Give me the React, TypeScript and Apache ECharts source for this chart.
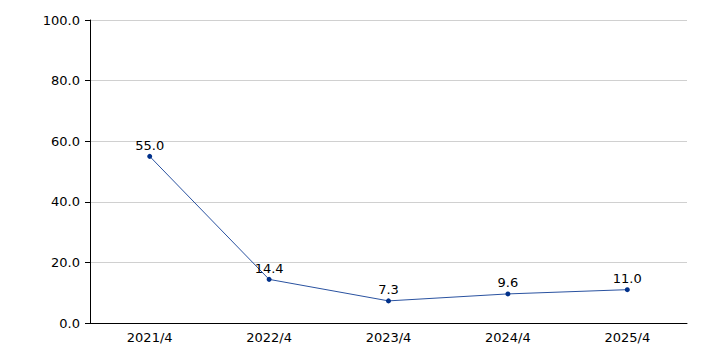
import React, { useEffect, useRef } from "react";
import * as echarts from "echarts";

const categories = ["2021/4", "2022/4", "2023/4", "2024/4", "2025/4"];
const values = [55.0, 14.4, 7.3, 9.6, 11.0];

export default function App() {
  const ref = useRef<HTMLDivElement>(null);
  useEffect(() => {
    const chart = echarts.init(ref.current!, null, { renderer: "svg" });
    const font = "'DejaVu Sans', Verdana, sans-serif";
    chart.setOption({
      animation: false,
      grid: { left: 90, right: 19, top: 20, bottom: 30, containLabel: false },
      xAxis: {
        type: "category",
        data: categories,
        boundaryGap: true,
        axisLine: { lineStyle: { color: "#000", width: 1 } },
        axisTick: { alignWithLabel: true, length: 5, lineStyle: { color: "#000" } },
        axisLabel: { color: "#000", fontSize: 13, fontFamily: font, margin: 8 },
        splitLine: { show: false },
      },
      yAxis: {
        type: "value",
        min: 0,
        max: 100,
        interval: 20,
        axisLine: { show: true, lineStyle: { color: "#000", width: 1 } },
        axisTick: { show: true, length: 5, lineStyle: { color: "#000" } },
        axisLabel: {
          color: "#000",
          fontSize: 13,
          fontFamily: font,
          margin: 10,
          formatter: (v: number) => v.toFixed(1),
        },
        splitLine: { show: true, lineStyle: { color: "#d0d0d0", width: 1 } },
      },
      series: [
        {
          type: "line",
          data: values,
          symbol: "circle",
          symbolSize: 5,
          lineStyle: { color: "#2a52a0", width: 1 },
          itemStyle: { color: "#00308a" },
          label: {
            show: true,
            position: "top",
            distance: 2,
            color: "#000",
            fontSize: 13,
            fontFamily: font,
            formatter: (p: any) => Number(p.value).toFixed(1),
          },
        },
      ],
    });
    return () => chart.dispose();
  }, []);
  return <div ref={ref} style={{ width: 706, height: 353, position: "absolute", left: 0, top: 0 }} />;
}
